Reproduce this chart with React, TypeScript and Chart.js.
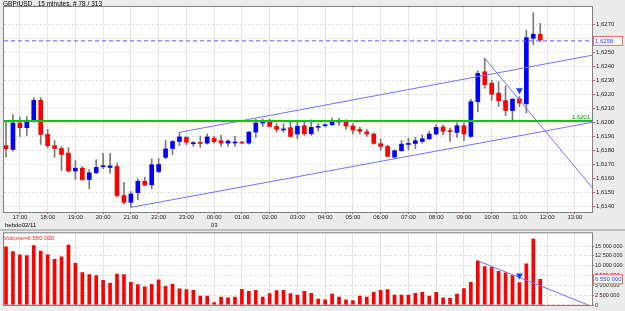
import React, { useEffect, useRef } from "react";
import { Chart, registerables } from "chart.js";
Chart.register(...registerables);

const FONT = "'Liberation Sans', Arial, sans-serif";

// 15-minute bars, 16:30 .. 11:45 (78 bars)
const openPrices = [
  1.61834, 1.61807, 1.61995, 1.61962, 1.62007, 1.62157, 1.61914, 1.61834, 1.61814, 1.61781,
  1.61653, 1.61674, 1.61593, 1.61641, 1.61684, 1.61679, 1.61686, 1.61479, 1.61431, 1.615,
  1.61581, 1.61555, 1.6165, 1.61751, 1.61814, 1.61864, 1.61893, 1.61848, 1.61855, 1.61852,
  1.61886, 1.61869, 1.61852, 1.61853, 1.61857, 1.61852, 1.61931, 1.61995, 1.62009, 1.61971,
  1.61946, 1.61962, 1.61917, 1.61976, 1.61919, 1.61965, 1.61976, 1.61983, 1.62003, 1.62002,
  1.61974, 1.6195, 1.61933, 1.61917, 1.61848, 1.61829, 1.61753, 1.61798, 1.61843, 1.6185,
  1.61864, 1.61883, 1.61917, 1.61967, 1.61938, 1.61928, 1.61976, 1.619, 1.62147, 1.6236,
  1.62279, 1.62208, 1.62155, 1.62084, 1.62167, 1.62132, 1.62598, 1.62627,
];
const highPrices = [
  1.62002, 1.62055, 1.62038, 1.62041, 1.62176, 1.62176, 1.6195, 1.61871, 1.61828, 1.6182,
  1.61729, 1.61686, 1.61664, 1.61734, 1.61779, 1.61779, 1.6171, 1.61574, 1.61507, 1.61598,
  1.6161, 1.61741, 1.61743, 1.61871, 1.61871, 1.61929, 1.619, 1.61864, 1.619, 1.61917,
  1.619, 1.61907, 1.61876, 1.619, 1.61862, 1.61935, 1.62021, 1.62023, 1.62023, 1.6199,
  1.6199, 1.62006, 1.62006, 1.62009, 1.62018, 1.6199, 1.6199, 1.6203, 1.6203, 1.62018,
  1.6199, 1.61967, 1.6195, 1.61924, 1.61881, 1.61836, 1.61805, 1.61871, 1.61888, 1.61893,
  1.61911, 1.61936, 1.61983, 1.61983, 1.6196, 1.61995, 1.61995, 1.62164, 1.62367, 1.62456,
  1.623, 1.6229, 1.6226, 1.62169, 1.62184, 1.62657, 1.6278, 1.62705,
];
const lowPrices = [
  1.61752, 1.61795, 1.619, 1.61907, 1.62002, 1.61843, 1.6182, 1.61752, 1.61657, 1.61648,
  1.61595, 1.61586, 1.61527, 1.61636, 1.61671, 1.61637, 1.61467, 1.61419, 1.61395, 1.61448,
  1.6155, 1.61527, 1.6164, 1.61741, 1.61771, 1.61834, 1.61841, 1.61829, 1.61821, 1.61845,
  1.61852, 1.61829, 1.61829, 1.61829, 1.61848, 1.61845, 1.61893, 1.61971, 1.61966, 1.6193,
  1.6193, 1.61893, 1.61883, 1.61907, 1.61907, 1.61938, 1.61967, 1.61978, 1.61978, 1.6195,
  1.61917, 1.61917, 1.619, 1.61845, 1.618, 1.61753, 1.61741, 1.61795, 1.61805, 1.61812,
  1.61852, 1.61876, 1.61912, 1.61912, 1.61864, 1.61893, 1.61869, 1.61893, 1.62076, 1.62243,
  1.62157, 1.62113, 1.62047, 1.62006, 1.62113, 1.62068, 1.62551, 1.62574,
];
const closePrices = [
  1.61812, 1.61995, 1.61962, 1.62007, 1.62157, 1.61914, 1.61834, 1.61814, 1.61771, 1.61653,
  1.61674, 1.61593, 1.61641, 1.61679, 1.61686, 1.6169, 1.61479, 1.61431, 1.6149, 1.61581,
  1.61553, 1.61698, 1.617, 1.61811, 1.61864, 1.61896, 1.61858, 1.6185, 1.6185, 1.61896,
  1.61862, 1.61852, 1.61867, 1.61855, 1.61853, 1.61931, 1.61995, 1.62009, 1.61971, 1.6195,
  1.61948, 1.619, 1.61973, 1.61919, 1.61964, 1.61967, 1.61983, 1.62007, 1.62005, 1.61974,
  1.61945, 1.61936, 1.61917, 1.6185, 1.61829, 1.61758, 1.61798, 1.61845, 1.61845, 1.61869,
  1.61883, 1.61917, 1.61964, 1.61936, 1.61934, 1.61976, 1.61917, 1.62147, 1.62348, 1.62267,
  1.622, 1.62153, 1.62084, 1.62165, 1.62137, 1.62603, 1.62627, 1.62586,
];
const volumes = [
  14800000, 13600000, 12750000, 12600000, 15100000, 13750000, 12750000, 11600000, 12250000, 15250000,
  10600000, 8250000, 7750000, 7500000, 6250000, 5500000, 7900000, 7750000, 5750000, 5200000,
  4600000, 5250000, 6400000, 4750000, 5250000, 4100000, 3900000, 3750000, 2300000, 2300000,
  600000, 2000000, 1800000, 2000000, 4000000, 3500000, 3750000, 2000000, 2900000, 3700000,
  3750000, 2900000, 2500000, 3500000, 3000000, 1500000, 1300000, 2750000, 2000000, 1300000,
  1100000, 2250000, 2000000, 3250000, 3750000, 3900000, 2500000, 2500000, 2500000, 3000000,
  3250000, 2250000, 3250000, 1800000, 1700000, 2750000, 4200000, 5750000, 11250000, 9800000,
  9600000, 8600000, 8200000, 7500000, 5700000, 10500000, 16800000, 6550000,
];

const hourTicks = [2, 6, 10, 14, 18, 22, 26, 30, 34, 38, 42, 46, 50, 54, 58, 62, 66, 70, 74, 78, 82];
const hourLabels = [
  "17:00", "18:00", "19:00", "20:00", "21:00", "22:00", "23:00", "00:00", "01:00", "02:00", "03:00",
  "04:00", "05:00", "06:00", "07:00", "08:00", "09:00", "10:00", "11:00", "12:00", "13:00",
];
const dayLabel = "03";
const dayLabelTick = "00:00";
const priceTicks = [1.614, 1.615, 1.616, 1.617, 1.618, 1.619, 1.62, 1.621, 1.622, 1.623, 1.624, 1.625, 1.626, 1.627];
const volumeTicks = [0, 2500000, 5000000, 7500000, 10000000, 12500000, 15000000];

const supportLevel = 1.6201;
const lastPrice = 1.6258;
const lastVolume = 6550000;
const lowerChannel = [{ x: 18, y: 1.61395 }, { x: 84.5, y: 1.62 }];
const upperChannel = [{ x: 25, y: 1.61929 }, { x: 84.5, y: 1.62478 }];
const fallingLine = [{ x: 69, y: 1.62456 }, { x: 84.5, y: 1.61535 }];
const volumeTrend = [{ x: 68, y: 11250000 }, { x: 83.9, y: 0 }];
const signalPrice = [{ x: 74, y: 1.62228 }];
const signalVolume = [{ x: 74, y: 7500000 }];

const X_MIN = -0.29;
const X_MAX = 84.46;
const PRICE_MIN = 1.61362;
const PRICE_MAX = 1.62821;
const VOL_MAX = 18250000;

const fmtPrice = (v: number) => v.toFixed(4).replace(".", ",");
const fmtVol = (v: number) => Math.round(v).toString().replace(/\B(?=(\d{3})+(?!\d))/g, " ");

function bgPlugin(id: string) {
  return {
    id,
    beforeDraw(chart: any) {
      const { ctx, chartArea: a } = chart;
      ctx.save();
      ctx.fillStyle = "#ececec";
      ctx.fillRect(0, 0, chart.width, chart.height);
      ctx.fillStyle = "#ffffff";
      ctx.fillRect(a.left, a.top, a.right - a.left, a.bottom - a.top);
      ctx.restore();
    },
  };
}

function labelBox(ctx: any, y: number, x: number, text: string) {
  ctx.save();
  ctx.fillStyle = "#ffffff";
  ctx.fillRect(x, y - 5, 29, 10);
  ctx.strokeStyle = "#ff6060";
  ctx.lineWidth = 1;
  ctx.strokeRect(x + 0.5, y - 4.5, 29, 9);
  ctx.fillStyle = "#3333ff";
  ctx.font = `6px ${FONT}`;
  ctx.textBaseline = "middle";
  ctx.textAlign = "left";
  ctx.fillText(text, x + 2, y + 0.5);
  ctx.restore();
}

const mainDecor = {
  id: "mainDecor",
  afterDraw(chart: any) {
    const { ctx, chartArea: a, scales } = chart;
    ctx.save();
    ctx.strokeStyle = "#808080";
    ctx.lineWidth = 1;
    ctx.strokeRect(a.left - 0.5, a.top - 0.5, a.right - a.left + 1, a.bottom - a.top + 1);
    ctx.font = `6.5px ${FONT}`;
    ctx.fillStyle = "#000000";
    ctx.textBaseline = "alphabetic";
    ctx.fillText("GBP/USD , 15 minutes, # 78 / 313", 3, 6);
    ctx.font = `6px ${FONT}`;
    ctx.fillText("hebdo02/11", 5, 227);
    const gy = scales.y.getPixelForValue(supportLevel);
    ctx.fillStyle = "#00b000";
    ctx.textAlign = "right";
    ctx.fillText(fmtPrice(supportLevel), a.right - 2, gy - 2);
    ctx.restore();
    labelBox(ctx, scales.y.getPixelForValue(lastPrice), a.right + 1, fmtPrice(lastPrice));
  },
};

const volDecor = {
  id: "volDecor",
  afterDraw(chart: any) {
    const { ctx, chartArea: a, scales } = chart;
    ctx.save();
    ctx.fillStyle = "#bdbdbd";
    ctx.fillRect(0, 0, chart.width, 2);
    ctx.strokeStyle = "#808080";
    ctx.lineWidth = 1;
    ctx.strokeRect(a.left - 0.5, a.top - 0.5, a.right - a.left + 1, a.bottom - a.top + 1);
    ctx.font = `6px ${FONT}`;
    ctx.fillStyle = "#ff2020";
    ctx.fillText("Volume=" + fmtVol(lastVolume), 4, a.top + 7);
    ctx.restore();
    labelBox(ctx, scales.y.getPixelForValue(lastVolume), a.right + 1, fmtVol(lastVolume));
  },
};

export default function App() {
  const mainRef = useRef<HTMLCanvasElement>(null);
  const volRef = useRef<HTMLCanvasElement>(null);

  useEffect(() => {
    const bodies = openPrices.map((o, i) => ({ x: i, y: [o, closePrices[i]] }));
    const wicks = lowPrices.map((l, i) => ({ x: i, y: [l, highPrices[i]] }));
    const bodyColors = openPrices.map((o, i) => (closePrices[i] >= o ? "#0000ff" : "#ff0000"));
    const vols = volumes.map((v, i) => ({ x: i, y: v }));

    const xScale = (showTicks: boolean, height: number) => ({
      type: "linear",
      min: X_MIN,
      max: X_MAX,
      offset: false,
      afterBuildTicks: (s: any) => {
        s.ticks = hourTicks.map((v) => ({ value: v }));
      },
      afterFit: (s: any) => {
        s.height = height;
      },
      grid: { color: "#e4e4e4", tickColor: "#ff4040", tickLength: 2, offset: false, drawTicks: showTicks },
      border: { display: true, color: "#808080" },
      ticks: {
        display: showTicks,
        autoSkip: false,
        maxRotation: 0,
        padding: 0,
        color: "#222",
        font: { size: 6, family: FONT, lineHeight: 1.25 },
        callback: (_v: any, idx: number) =>
          hourLabels[idx] === dayLabelTick ? [hourLabels[idx], dayLabel] : hourLabels[idx],
      },
    });

    const lineDs = (data: any, color: string, width = 1, dash: number[] = []) => ({
      type: "line",
      data,
      borderColor: color,
      borderWidth: width,
      borderDash: dash,
      pointRadius: 0,
      pointHoverRadius: 0,
      fill: false,
    });

    const markerDs = (data: any) => ({
      type: "line",
      data,
      showLine: false,
      pointStyle: "triangle",
      rotation: 180,
      pointRadius: 4,
      backgroundColor: "#1a3cff",
      borderColor: "#1a3cff",
      borderWidth: 0,
    });

    const main = new Chart(mainRef.current as HTMLCanvasElement, {
      type: "bar",
      data: {
        datasets: [
          markerDs(signalPrice),
          lineDs([{ x: X_MIN - 1, y: supportLevel }, { x: X_MAX + 1, y: supportLevel }], "#00cc00", 2),
          lineDs([{ x: X_MIN - 1, y: lastPrice }, { x: X_MAX + 1, y: lastPrice }], "#5a5aff", 1, [4, 3]),
          lineDs(lowerChannel, "#7272ff"),
          lineDs(upperChannel, "#7272ff"),
          lineDs(fallingLine, "#7272ff"),
          {
            type: "bar",
            data: bodies,
            backgroundColor: bodyColors,
            barThickness: 4,
            grouped: false,
            minBarLength: 1,
            borderWidth: 0,
          },
          {
            type: "bar",
            data: wicks,
            backgroundColor: "#7a7a7a",
            barThickness: 1,
            grouped: false,
            borderWidth: 0,
          },
        ] as any,
      },
      options: {
        animation: false,
        responsive: false,
        maintainAspectRatio: false,
        events: [],
        layout: { padding: { left: 3, top: 7, right: 0, bottom: 0 } },
        plugins: { legend: { display: false }, tooltip: { enabled: false }, title: { display: false } },
        scales: {
          x: xScale(true, 17) as any,
          y: {
            position: "right",
            min: PRICE_MIN,
            max: PRICE_MAX,
            afterBuildTicks: (s: any) => {
              s.ticks = priceTicks.map((v) => ({ value: v }));
            },
            afterFit: (s: any) => {
              s.width = 33;
            },
            grid: { color: "#dedede", tickColor: "#ff4040", tickLength: 3 },
            border: { display: true, color: "#808080", dash: [2, 2] },
            ticks: {
              padding: 1,
              color: "#222",
              font: { size: 6, family: FONT },
              callback: (v: any) => fmtPrice(Number(v)),
            },
          },
        },
      },
      plugins: [bgPlugin("mainBg"), mainDecor],
    } as any);

    const vol = new Chart(volRef.current as HTMLCanvasElement, {
      type: "bar",
      data: {
        datasets: [
          markerDs(signalVolume),
          lineDs(volumeTrend, "#7272ff"),
          lineDs([{ x: X_MIN - 1, y: 0 }, { x: X_MAX + 1, y: 0 }], "#ff9090", 1, [3, 2]),
          {
            type: "bar",
            data: vols,
            backgroundColor: "#ff0000",
            barThickness: 3,
            grouped: false,
            borderWidth: 0,
          },
        ] as any,
      },
      options: {
        animation: false,
        responsive: false,
        maintainAspectRatio: false,
        events: [],
        layout: { padding: { left: 3, top: 3, right: 0, bottom: 0 } },
        plugins: { legend: { display: false }, tooltip: { enabled: false } },
        scales: {
          x: xScale(false, 6) as any,
          y: {
            position: "right",
            min: 0,
            max: VOL_MAX,
            afterBuildTicks: (s: any) => {
              s.ticks = volumeTicks.map((v) => ({ value: v }));
            },
            afterFit: (s: any) => {
              s.width = 33;
            },
            grid: { color: "#dedede", tickColor: "#ff4040", tickLength: 2 },
            border: { display: true, color: "#808080", dash: [3, 2] },
            ticks: {
              padding: 1,
              color: "#222",
              font: { size: 5.5, family: FONT },
              callback: (v: any) => fmtVol(Number(v)),
            },
          },
        },
      },
      plugins: [bgPlugin("volBg"), volDecor],
    } as any);

    return () => {
      main.destroy();
      vol.destroy();
    };
  }, []);

  return (
    <div style={{ position: "absolute", left: 0, top: 0, width: 625, height: 311, background: "#ececec" }}>
      <canvas ref={mainRef} width={625} height={229} style={{ position: "absolute", left: 0, top: 0, width: 625, height: 229 }} />
      <canvas ref={volRef} width={625} height={82} style={{ position: "absolute", left: 0, top: 229, width: 625, height: 82 }} />
    </div>
  );
}
